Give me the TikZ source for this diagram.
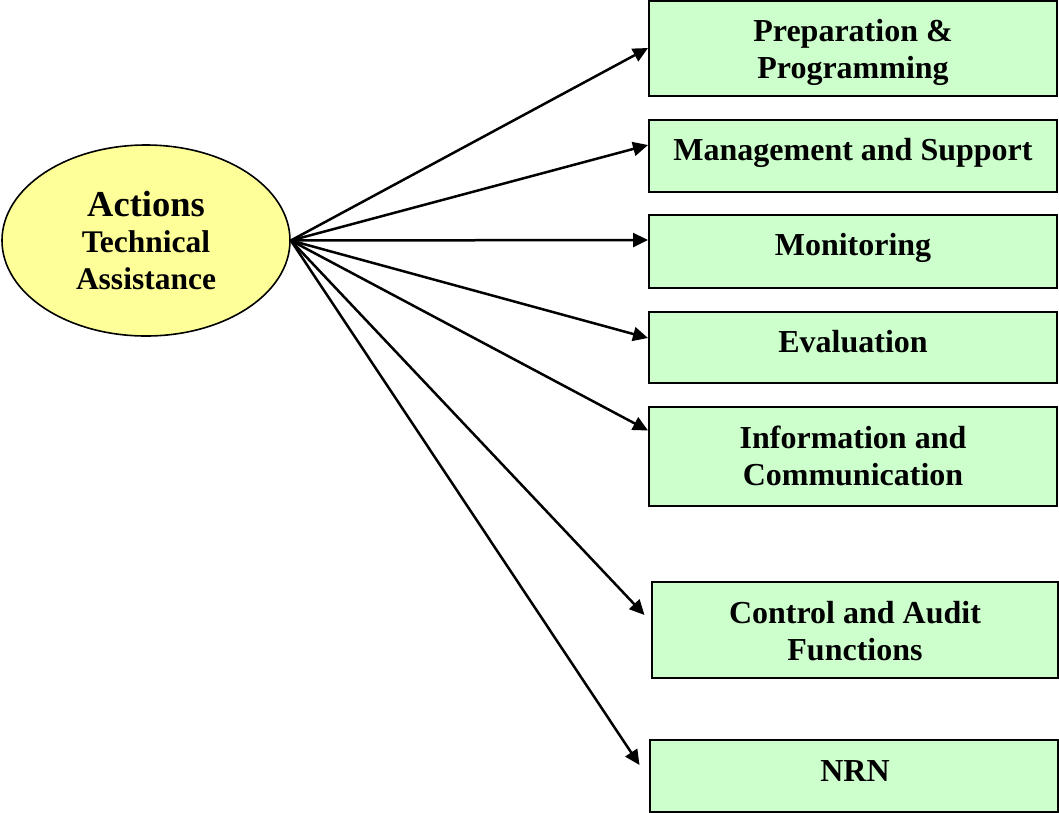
\documentclass[tikz,border=0pt]{standalone}
\usepackage{fontspec}
\setmainfont{Liberation Serif}
\usetikzlibrary{shapes.geometric,arrows.meta}
\definecolor{boxgreen}{HTML}{CCFFCC}
\definecolor{ellyellow}{HTML}{FFFF99}
\begin{document}
\begin{tikzpicture}[x=1pt,y=-1pt,
  boxshape/.style={draw=black,line width=2pt,fill=boxgreen,minimum width=408pt,inner sep=0pt},
  boxtext/.style={font=\fontsize{32}{37}\selectfont\bfseries,align=center,inner sep=0pt},
  link/.style={line width=2.5pt,-{Triangle[length=15pt,width=14pt]}}]
\useasboundingbox (0,0) rectangle (1059,812);
\node[ellipse,draw=black,line width=1.6pt,fill=ellyellow,minimum width=288pt,minimum height=191pt,inner sep=0pt] (E) at (146,240.5) {};
\node[align=center,inner sep=0pt,font=\fontsize{31.5}{36.5}\selectfont\bfseries] (Et) at (146,240) {{\fontsize{36.5}{36.5}\selectfont Actions}\\Technical\\Assistance};
\node[boxshape,minimum height=95pt] (b1) at (853,48) {};
\node[boxshape,minimum height=72pt] (b2) at (853,156) {};
\node[boxshape,minimum height=73pt] (b3) at (853,251.5) {};
\node[boxshape,minimum height=71pt] (b4) at (853,347.5) {};
\node[boxshape,minimum height=99pt] (b5) at (853,456.5) {};
\node[boxshape,minimum width=406pt,minimum height=96pt] (b6) at (854.5,630) {};
\node[boxshape,minimum height=72pt] (b7) at (853.5,776) {};
\node[boxtext] (t1) at (853,52) {Preparation \&\\Programming};
\node[boxtext] (t2) at (853,153) {Management and Support};
\node[boxtext] (t3) at (853,248) {Monitoring};
\node[boxtext] (t4) at (853,341.5) {Evaluation};
\node[boxtext] (t5) at (853,456) {Information and\\Communication};
\node[boxtext] (t6) at (855,631) {Control and Audit\\Functions};
\node[boxtext] (t7) at (855,771) {NRN};
\draw[link] (E.east) -- (b1.west);
\draw[link] (E.east) -- ([yshift=11pt]b2.west);
\draw[link] (E.east) -- ([yshift=11.5pt]b3.west);
\draw[link] (E.east) -- ([yshift=9.5pt]b4.west);
\draw[link] (E.east) -- ([yshift=26pt]b5.west);
\draw[link] (E.east) -- ([xshift=-6pt,yshift=15pt]b6.west);
\draw[link] (E.east) -- ([xshift=-9pt,yshift=11pt]b7.west);
\end{tikzpicture}
\end{document}
